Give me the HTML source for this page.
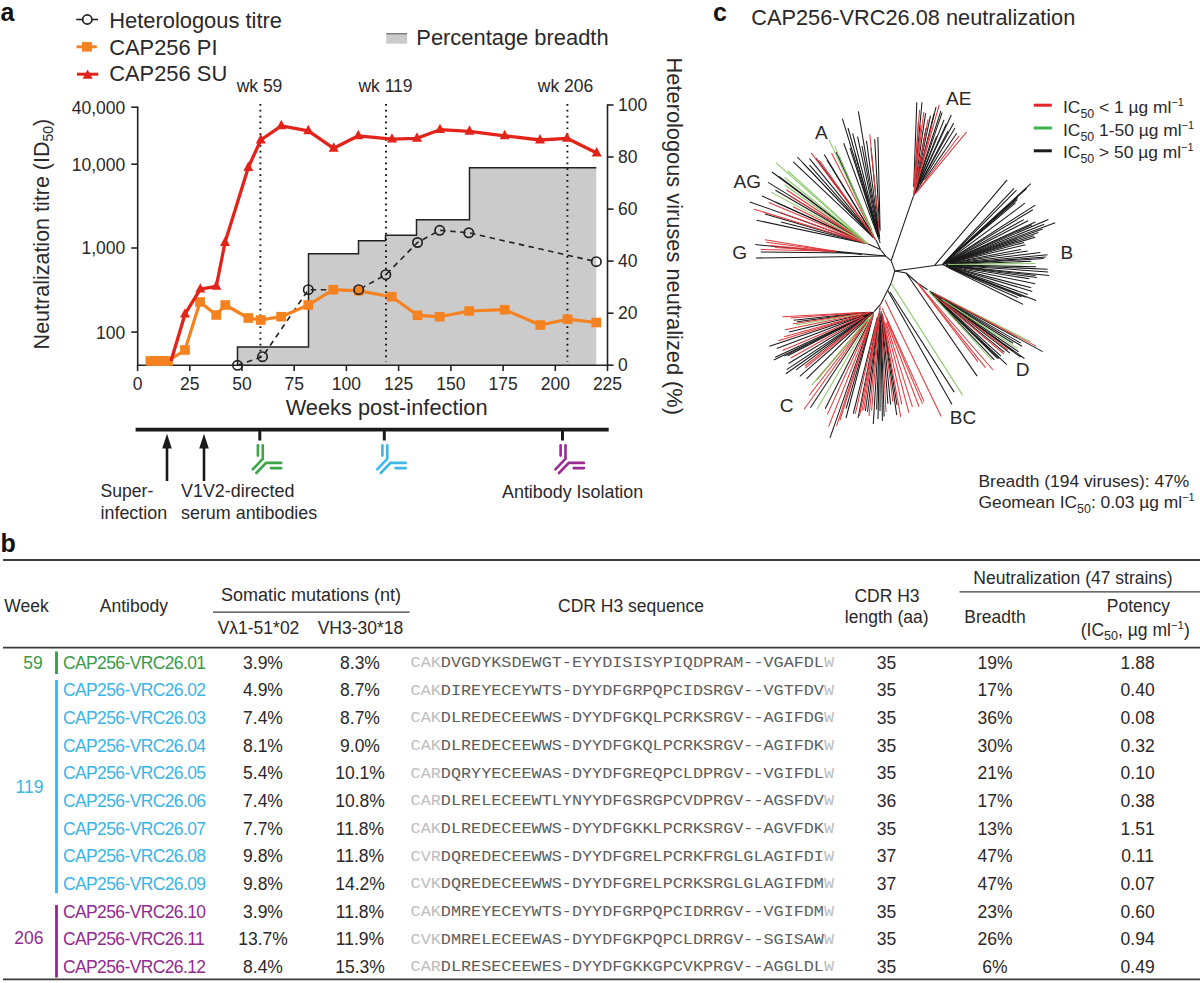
<!DOCTYPE html>
<html><head><meta charset="utf-8"><title>Figure</title>
<style>
html,body{margin:0;padding:0;background:#fff;}
body{width:1200px;height:983px;overflow:hidden;}
svg{display:block;font-family:"Liberation Sans",sans-serif;}
</style></head><body>
<svg width="1200" height="983" viewBox="0 0 1200 983">
<text x="0.5" y="20.9" font-size="25" text-anchor="start" fill="#111" font-weight="bold" >a</text>
<line x1="76.2" y1="19.5" x2="98.0" y2="19.5" stroke="#222" stroke-width="1.6" />
<circle cx="87.3" cy="19.5" r="4.6" fill="#fff" stroke="#222" stroke-width="1.7"/>
<text x="109.2" y="27.8" font-size="21.9" text-anchor="start" fill="#2a2829" font-weight="normal" >Heterologous titre</text>
<line x1="76.6" y1="46.8" x2="96.8" y2="46.8" stroke="#f58220" stroke-width="3" />
<rect x="81.9" y="42" width="10" height="9.6" fill="#f58220"/>
<text x="109.2" y="54.6" font-size="21.9" text-anchor="start" fill="#2a2829" font-weight="normal" >CAP256 PI</text>
<line x1="77.0" y1="74.2" x2="98.3" y2="74.2" stroke="#e2231a" stroke-width="3" />
<path d="M87.6,69.6 L92.6,78.7 L82.6,78.7 Z" fill="#e2231a"/>
<text x="109.2" y="81.4" font-size="21.9" text-anchor="start" fill="#2a2829" font-weight="normal" >CAP256 SU</text>
<rect x="386.3" y="33.3" width="20.8" height="10.4" fill="#cccbcc"/>
<line x1="386.3" y1="33.8" x2="407.1" y2="33.8" stroke="#555" stroke-width="1" />
<text x="416.3" y="45.2" font-size="21.9" text-anchor="start" fill="#2a2829" font-weight="normal" >Percentage breadth</text>
<text x="259.5" y="91.7" font-size="17.5" text-anchor="middle" fill="#2a2829" font-weight="normal" >wk 59</text>
<text x="385.5" y="91.7" font-size="17.5" text-anchor="middle" fill="#2a2829" font-weight="normal" >wk 119</text>
<text x="565.5" y="91.7" font-size="17.5" text-anchor="middle" fill="#2a2829" font-weight="normal" >wk 206</text>
<path d="M237.5,365.3 L237.5,347 L308.5,347 L308.5,253.7 L358.5,253.7 L358.5,240.8 L385.5,240.8 L385.5,235.3 L416.5,235.3 L416.5,219.7 L469.5,219.7 L469.5,167.8 L596.3,167.8 L596.3,365.3 Z" fill="#cccbcc" stroke="none"/>
<path d="M237.5,365.3 L237.5,347 L308.5,347 L308.5,253.7 L358.5,253.7 L358.5,240.8 L385.5,240.8 L385.5,235.3 L416.5,235.3 L416.5,219.7 L469.5,219.7 L469.5,167.8 L596.3,167.8 " fill="none" stroke="#222" stroke-width="1.5"/>
<line x1="260.4" y1="104.0" x2="260.4" y2="362.0" stroke="#111" stroke-width="1.9" stroke-dasharray="1.7 4.15"/>
<line x1="386.0" y1="104.0" x2="386.0" y2="362.0" stroke="#111" stroke-width="1.9" stroke-dasharray="1.7 4.15"/>
<line x1="567.4" y1="104.0" x2="567.4" y2="362.0" stroke="#111" stroke-width="1.9" stroke-dasharray="1.7 4.15"/>
<line x1="137.7" y1="106.5" x2="137.7" y2="366.0" stroke="#222" stroke-width="1.6" />
<line x1="136.9" y1="365.3" x2="608.3" y2="365.3" stroke="#222" stroke-width="1.6" />
<line x1="607.5" y1="104.3" x2="607.5" y2="366.0" stroke="#222" stroke-width="1.6" />
<line x1="131.2" y1="107.2" x2="137.7" y2="107.2" stroke="#222" stroke-width="1.6" />
<text x="125.3" y="113.6" font-size="17.5" text-anchor="end" fill="#2a2829" font-weight="normal" >40,000</text>
<line x1="131.2" y1="164.2" x2="137.7" y2="164.2" stroke="#222" stroke-width="1.6" />
<text x="125.3" y="170.6" font-size="17.5" text-anchor="end" fill="#2a2829" font-weight="normal" >10,000</text>
<line x1="131.2" y1="248.0" x2="137.7" y2="248.0" stroke="#222" stroke-width="1.6" />
<text x="125.3" y="254.4" font-size="17.5" text-anchor="end" fill="#2a2829" font-weight="normal" >1,000</text>
<line x1="131.2" y1="332.1" x2="137.7" y2="332.1" stroke="#222" stroke-width="1.6" />
<text x="125.3" y="338.5" font-size="17.5" text-anchor="end" fill="#2a2829" font-weight="normal" >100</text>
<line x1="137.6" y1="365.3" x2="137.6" y2="371.0" stroke="#222" stroke-width="1.6" />
<text x="137.6" y="389.7" font-size="17.5" text-anchor="middle" fill="#2a2829" font-weight="normal" >0</text>
<line x1="189.8" y1="365.3" x2="189.8" y2="371.0" stroke="#222" stroke-width="1.6" />
<text x="189.8" y="389.7" font-size="17.5" text-anchor="middle" fill="#2a2829" font-weight="normal" >25</text>
<line x1="242.0" y1="365.3" x2="242.0" y2="371.0" stroke="#222" stroke-width="1.6" />
<text x="242.0" y="389.7" font-size="17.5" text-anchor="middle" fill="#2a2829" font-weight="normal" >50</text>
<line x1="294.2" y1="365.3" x2="294.2" y2="371.0" stroke="#222" stroke-width="1.6" />
<text x="294.2" y="389.7" font-size="17.5" text-anchor="middle" fill="#2a2829" font-weight="normal" >75</text>
<line x1="346.4" y1="365.3" x2="346.4" y2="371.0" stroke="#222" stroke-width="1.6" />
<text x="346.4" y="389.7" font-size="17.5" text-anchor="middle" fill="#2a2829" font-weight="normal" >100</text>
<line x1="398.6" y1="365.3" x2="398.6" y2="371.0" stroke="#222" stroke-width="1.6" />
<text x="398.6" y="389.7" font-size="17.5" text-anchor="middle" fill="#2a2829" font-weight="normal" >125</text>
<line x1="450.9" y1="365.3" x2="450.9" y2="371.0" stroke="#222" stroke-width="1.6" />
<text x="450.9" y="389.7" font-size="17.5" text-anchor="middle" fill="#2a2829" font-weight="normal" >150</text>
<line x1="503.1" y1="365.3" x2="503.1" y2="371.0" stroke="#222" stroke-width="1.6" />
<text x="503.1" y="389.7" font-size="17.5" text-anchor="middle" fill="#2a2829" font-weight="normal" >175</text>
<line x1="555.3" y1="365.3" x2="555.3" y2="371.0" stroke="#222" stroke-width="1.6" />
<text x="555.3" y="389.7" font-size="17.5" text-anchor="middle" fill="#2a2829" font-weight="normal" >200</text>
<line x1="607.5" y1="365.3" x2="607.5" y2="371.0" stroke="#222" stroke-width="1.6" />
<text x="607.5" y="389.7" font-size="17.5" text-anchor="middle" fill="#2a2829" font-weight="normal" >225</text>
<line x1="607.5" y1="365.2" x2="613.5" y2="365.2" stroke="#222" stroke-width="1.6" />
<text x="618.0" y="371.4" font-size="17.5" text-anchor="start" fill="#2a2829" font-weight="normal" >0</text>
<line x1="607.5" y1="313.2" x2="613.5" y2="313.2" stroke="#222" stroke-width="1.6" />
<text x="618.0" y="319.4" font-size="17.5" text-anchor="start" fill="#2a2829" font-weight="normal" >20</text>
<line x1="607.5" y1="261.1" x2="613.5" y2="261.1" stroke="#222" stroke-width="1.6" />
<text x="618.0" y="267.3" font-size="17.5" text-anchor="start" fill="#2a2829" font-weight="normal" >40</text>
<line x1="607.5" y1="209.1" x2="613.5" y2="209.1" stroke="#222" stroke-width="1.6" />
<text x="618.0" y="215.3" font-size="17.5" text-anchor="start" fill="#2a2829" font-weight="normal" >60</text>
<line x1="607.5" y1="157.0" x2="613.5" y2="157.0" stroke="#222" stroke-width="1.6" />
<text x="618.0" y="163.2" font-size="17.5" text-anchor="start" fill="#2a2829" font-weight="normal" >80</text>
<line x1="607.5" y1="105.0" x2="613.5" y2="105.0" stroke="#222" stroke-width="1.6" />
<text x="618.0" y="111.2" font-size="17.5" text-anchor="start" fill="#2a2829" font-weight="normal" >100</text>
<text x="386.6" y="415.1" font-size="21.8" text-anchor="middle" fill="#2a2829" font-weight="normal" >Weeks post-infection</text>
<text transform="translate(48.9,349.4) rotate(-90)" font-size="21.5" fill="#2a2829">Neutralization titre (ID<tspan font-size="14" dy="4">50</tspan><tspan dy="-4">)</tspan></text>
<text transform="translate(667.1,57.6) rotate(90)" font-size="21.8" fill="#2a2829">Heterologous viruses neutralized (%)</text>
<polyline points="237.5,365.3 262.5,356.7 308.3,289.7 358.7,289.7 385.8,274.7 417.5,242.5 439.7,230.3 468.8,232.8 596.3,261.7" fill="none" stroke="#222" stroke-width="1.6" stroke-dasharray="5.5 4.5"/>
<polyline points="150.5,361 155,361 159.5,361 164,361 168,361 185,350 200,302 216.3,315 225.3,305 248.3,318 260.8,320 281.2,316.7 308.3,305 333.3,289.7 358.7,290.8 391.7,296.7 417.5,315.3 439.7,316.7 469.2,311 504.7,309.7 540.3,325 567.5,319.2 596.3,322.5" fill="none" stroke="#f58220" stroke-width="3.2" stroke-linejoin="round"/>
<rect x="145.6" y="356.2" width="9.8" height="9.6" fill="#f58220"/>
<rect x="150.1" y="356.2" width="9.8" height="9.6" fill="#f58220"/>
<rect x="154.6" y="356.2" width="9.8" height="9.6" fill="#f58220"/>
<rect x="159.1" y="356.2" width="9.8" height="9.6" fill="#f58220"/>
<rect x="163.1" y="356.2" width="9.8" height="9.6" fill="#f58220"/>
<rect x="180.1" y="345.2" width="9.8" height="9.6" fill="#f58220"/>
<rect x="195.1" y="297.2" width="9.8" height="9.6" fill="#f58220"/>
<rect x="211.4" y="310.2" width="9.8" height="9.6" fill="#f58220"/>
<rect x="220.4" y="300.2" width="9.8" height="9.6" fill="#f58220"/>
<rect x="243.4" y="313.2" width="9.8" height="9.6" fill="#f58220"/>
<rect x="255.9" y="315.2" width="9.8" height="9.6" fill="#f58220"/>
<rect x="276.3" y="311.9" width="9.8" height="9.6" fill="#f58220"/>
<rect x="303.4" y="300.2" width="9.8" height="9.6" fill="#f58220"/>
<rect x="328.4" y="284.9" width="9.8" height="9.6" fill="#f58220"/>
<rect x="353.8" y="286.0" width="9.8" height="9.6" fill="#f58220"/>
<rect x="386.8" y="291.9" width="9.8" height="9.6" fill="#f58220"/>
<rect x="412.6" y="310.5" width="9.8" height="9.6" fill="#f58220"/>
<rect x="434.8" y="311.9" width="9.8" height="9.6" fill="#f58220"/>
<rect x="464.3" y="306.2" width="9.8" height="9.6" fill="#f58220"/>
<rect x="499.8" y="304.9" width="9.8" height="9.6" fill="#f58220"/>
<rect x="535.4" y="320.2" width="9.8" height="9.6" fill="#f58220"/>
<rect x="562.6" y="314.4" width="9.8" height="9.6" fill="#f58220"/>
<rect x="591.4" y="317.7" width="9.8" height="9.6" fill="#f58220"/>
<polyline points="171,361 185,314.2 200.3,289.2 216.3,286.3 225,242.5 248.3,167.5 260.8,140 281.3,125.8 308.3,130.8 333.7,148.3 358.3,135.8 392,139.2 417,138.3 440,129.7 469.5,131.3 504.7,135.8 540,140 567,138.3 596.7,153" fill="none" stroke="#e2231a" stroke-width="3.3" stroke-linejoin="round"/>
<path d="M185.0,308.2 L190.0,317.6 L180.0,317.6 Z" fill="#e2231a"/>
<path d="M200.3,283.2 L205.3,292.6 L195.3,292.6 Z" fill="#e2231a"/>
<path d="M216.3,280.3 L221.3,289.7 L211.3,289.7 Z" fill="#e2231a"/>
<path d="M225.0,236.5 L230.0,245.9 L220.0,245.9 Z" fill="#e2231a"/>
<path d="M248.3,161.5 L253.3,170.9 L243.3,170.9 Z" fill="#e2231a"/>
<path d="M260.8,134.0 L265.8,143.4 L255.8,143.4 Z" fill="#e2231a"/>
<path d="M281.3,119.8 L286.3,129.2 L276.3,129.2 Z" fill="#e2231a"/>
<path d="M308.3,124.8 L313.3,134.2 L303.3,134.2 Z" fill="#e2231a"/>
<path d="M333.7,142.3 L338.7,151.7 L328.7,151.7 Z" fill="#e2231a"/>
<path d="M358.3,129.8 L363.3,139.2 L353.3,139.2 Z" fill="#e2231a"/>
<path d="M392.0,133.2 L397.0,142.6 L387.0,142.6 Z" fill="#e2231a"/>
<path d="M417.0,132.3 L422.0,141.7 L412.0,141.7 Z" fill="#e2231a"/>
<path d="M440.0,123.7 L445.0,133.1 L435.0,133.1 Z" fill="#e2231a"/>
<path d="M469.5,125.3 L474.5,134.7 L464.5,134.7 Z" fill="#e2231a"/>
<path d="M504.7,129.8 L509.7,139.2 L499.7,139.2 Z" fill="#e2231a"/>
<path d="M540.0,134.0 L545.0,143.4 L535.0,143.4 Z" fill="#e2231a"/>
<path d="M567.0,132.3 L572.0,141.7 L562.0,141.7 Z" fill="#e2231a"/>
<path d="M596.7,147.0 L601.7,156.4 L591.7,156.4 Z" fill="#e2231a"/>
<circle cx="237.5" cy="365.3" r="4.7" fill="none" stroke="#222" stroke-width="1.7"/>
<circle cx="262.5" cy="356.7" r="4.7" fill="none" stroke="#222" stroke-width="1.7"/>
<circle cx="308.3" cy="289.7" r="4.7" fill="none" stroke="#222" stroke-width="1.7"/>
<circle cx="358.7" cy="289.7" r="4.7" fill="none" stroke="#222" stroke-width="1.7"/>
<circle cx="385.8" cy="274.7" r="4.7" fill="none" stroke="#222" stroke-width="1.7"/>
<circle cx="417.5" cy="242.5" r="4.7" fill="none" stroke="#222" stroke-width="1.7"/>
<circle cx="439.7" cy="230.3" r="4.7" fill="none" stroke="#222" stroke-width="1.7"/>
<circle cx="468.8" cy="232.8" r="4.7" fill="none" stroke="#222" stroke-width="1.7"/>
<circle cx="596.3" cy="261.7" r="4.7" fill="none" stroke="#222" stroke-width="1.7"/>
<line x1="135.6" y1="429.6" x2="608.7" y2="429.6" stroke="#1a1a1a" stroke-width="3.6" />
<line x1="259.8" y1="429.6" x2="259.8" y2="440.5" stroke="#1a1a1a" stroke-width="3" />
<path d="M257.90000000000003,445.2 L257.90000000000003,455.6" stroke="#3aa647" stroke-width="2.6" stroke-linecap="round" fill="none"/>
<path d="M262.8,445.2 L262.8,458.8 L252.70000000000002,469.4" stroke="#3aa647" stroke-width="2.6" stroke-linecap="round" fill="none"/>
<path d="M281.2,462.9 L266.1,462.9 L256.3,473.0" stroke="#3aa647" stroke-width="2.6" stroke-linecap="round" fill="none"/>
<path d="M281.2,468.1 L271.0,468.1" stroke="#3aa647" stroke-width="2.6" stroke-linecap="round" fill="none"/>
<line x1="384.3" y1="429.6" x2="384.3" y2="440.5" stroke="#1a1a1a" stroke-width="3" />
<path d="M382.40000000000003,445.2 L382.40000000000003,455.6" stroke="#3db7e6" stroke-width="2.6" stroke-linecap="round" fill="none"/>
<path d="M387.3,445.2 L387.3,458.8 L377.2,469.4" stroke="#3db7e6" stroke-width="2.6" stroke-linecap="round" fill="none"/>
<path d="M405.7,462.9 L390.6,462.9 L380.8,473.0" stroke="#3db7e6" stroke-width="2.6" stroke-linecap="round" fill="none"/>
<path d="M405.7,468.1 L395.5,468.1" stroke="#3db7e6" stroke-width="2.6" stroke-linecap="round" fill="none"/>
<line x1="562.5" y1="429.6" x2="562.5" y2="440.5" stroke="#1a1a1a" stroke-width="3" />
<path d="M560.6,445.2 L560.6,455.6" stroke="#972b93" stroke-width="2.6" stroke-linecap="round" fill="none"/>
<path d="M565.5,445.2 L565.5,458.8 L555.4,469.4" stroke="#972b93" stroke-width="2.6" stroke-linecap="round" fill="none"/>
<path d="M583.9,462.9 L568.8,462.9 L559.0,473.0" stroke="#972b93" stroke-width="2.6" stroke-linecap="round" fill="none"/>
<path d="M583.9,468.1 L573.7,468.1" stroke="#972b93" stroke-width="2.6" stroke-linecap="round" fill="none"/>
<line x1="167.0" y1="446.0" x2="167.0" y2="481.0" stroke="#1a1a1a" stroke-width="2.6" />
<path d="M167,433.8 L171.8,448.5 L162.2,448.5 Z" fill="#1a1a1a"/>
<line x1="204.0" y1="446.0" x2="204.0" y2="481.0" stroke="#1a1a1a" stroke-width="2.6" />
<path d="M204,433.8 L208.8,448.5 L199.2,448.5 Z" fill="#1a1a1a"/>
<text x="100.5" y="497.4" font-size="17.6" text-anchor="start" fill="#2a2829" font-weight="normal" >Super-</text>
<text x="100.5" y="518.6" font-size="17.9" text-anchor="start" fill="#2a2829" font-weight="normal" >infection</text>
<text x="181.0" y="497.4" font-size="17.9" text-anchor="start" fill="#2a2829" font-weight="normal" >V1V2-directed</text>
<text x="181.0" y="518.6" font-size="17.9" text-anchor="start" fill="#2a2829" font-weight="normal" >serum antibodies</text>
<text x="502.0" y="497.6" font-size="17.9" text-anchor="start" fill="#2a2829" font-weight="normal" >Antibody Isolation</text>
<text x="713.0" y="20.8" font-size="25" text-anchor="start" fill="#111" font-weight="bold" >c</text>
<text x="751.3" y="25.0" font-size="21.75" text-anchor="start" fill="#2a2829" font-weight="normal" >CAP256-VRC26.08 neutralization</text>
<line x1="1033.8" y1="105.2" x2="1051.8" y2="105.2" stroke="#e2262b" stroke-width="3" />
<text x="1063" y="112.7" font-size="17.4" fill="#2a2829">IC<tspan font-size="12.4" dy="5">50</tspan><tspan dy="-5"> &lt; 1 µg ml</tspan><tspan font-size="11" dy="-7">−1</tspan></text>
<line x1="1033.8" y1="128.0" x2="1051.8" y2="128.0" stroke="#3bb34a" stroke-width="3" />
<text x="1063" y="135.5" font-size="17.4" fill="#2a2829">IC<tspan font-size="12.4" dy="5">50</tspan><tspan dy="-5"> 1-50 µg ml</tspan><tspan font-size="11" dy="-7">−1</tspan></text>
<line x1="1033.8" y1="150.8" x2="1051.8" y2="150.8" stroke="#1a1a1a" stroke-width="3" />
<text x="1063" y="158.3" font-size="17.4" fill="#2a2829">IC<tspan font-size="12.4" dy="5">50</tspan><tspan dy="-5"> &gt; 50 µg ml</tspan><tspan font-size="11" dy="-7">−1</tspan></text>
<text x="978.5" y="487.2" font-size="17.4" fill="#2a2829">Breadth (194 viruses): 47%</text>
<text x="978.5" y="507.5" font-size="17.4" fill="#2a2829">Geomean IC<tspan font-size="12.4" dy="5">50</tspan><tspan dy="-5">: 0.03 µg ml</tspan><tspan font-size="11" dy="-7">−1</tspan></text>
<line x1="894.8" y1="270.9" x2="891.2" y2="260.7" stroke="#1a1a1a" stroke-width="1.05"/>
<line x1="891.2" y1="260.7" x2="913.4" y2="196.2" stroke="#1a1a1a" stroke-width="1.05"/>
<line x1="891.2" y1="260.7" x2="885.6" y2="256.1" stroke="#1a1a1a" stroke-width="1.05"/>
<line x1="885.6" y1="256.1" x2="880.5" y2="249.5" stroke="#1a1a1a" stroke-width="1.05"/>
<line x1="894.8" y1="270.9" x2="934.6" y2="265.4" stroke="#1a1a1a" stroke-width="1.05"/>
<line x1="934.6" y1="265.4" x2="942.2" y2="264.7" stroke="#1a1a1a" stroke-width="1.05"/>
<line x1="934.6" y1="265.4" x2="1007.1" y2="179.9" stroke="#1a1a1a" stroke-width="1.05"/>
<line x1="894.8" y1="270.9" x2="891.2" y2="283.1" stroke="#1a1a1a" stroke-width="1.05"/>
<line x1="891.2" y1="283.1" x2="887.6" y2="290.2" stroke="#1a1a1a" stroke-width="1.05"/>
<line x1="887.6" y1="290.2" x2="880.5" y2="304.4" stroke="#1a1a1a" stroke-width="1.05"/>
<line x1="880.5" y1="304.4" x2="874.1" y2="311.6" stroke="#1a1a1a" stroke-width="1.05"/>
<line x1="894.8" y1="270.9" x2="906.1" y2="273.0" stroke="#1a1a1a" stroke-width="1.05"/>
<line x1="906.1" y1="273.0" x2="917.5" y2="283.0" stroke="#1a1a1a" stroke-width="1.05"/>
<line x1="917.5" y1="283.0" x2="927.5" y2="289.8" stroke="#1a1a1a" stroke-width="1.05"/>
<line x1="906.1" y1="273.0" x2="977.1" y2="376.1" stroke="#1a1a1a" stroke-width="1.05"/>
<line x1="891.2" y1="283.1" x2="962.6" y2="395.1" stroke="#8dc96a" stroke-width="1.05"/>
<line x1="890.0" y1="292.0" x2="954.2" y2="392.1" stroke="#1a1a1a" stroke-width="1.05"/>
<line x1="887.6" y1="290.2" x2="951.9" y2="404.3" stroke="#1a1a1a" stroke-width="1.05"/>
<line x1="885.0" y1="300.0" x2="941.2" y2="416.5" stroke="#e0393e" stroke-width="1.05"/>
<line x1="868.2" y1="244.0" x2="880.5" y2="249.5" stroke="#1a1a1a" stroke-width="1.05"/>
<line x1="876.0" y1="240.0" x2="880.5" y2="249.5" stroke="#1a1a1a" stroke-width="1.05"/>
<line x1="913.7" y1="187.2" x2="916.8" y2="102.2" stroke="#1a1a1a" stroke-width="1.05"/>
<line x1="914.4" y1="185.1" x2="922.0" y2="102.2" stroke="#1a1a1a" stroke-width="1.05"/>
<line x1="916.1" y1="177.9" x2="925.6" y2="113.2" stroke="#1a1a1a" stroke-width="1.05"/>
<line x1="915.1" y1="187.0" x2="926.0" y2="128.0" stroke="#1a1a1a" stroke-width="1.05"/>
<line x1="915.5" y1="186.3" x2="930.5" y2="115.6" stroke="#1a1a1a" stroke-width="1.05"/>
<line x1="916.3" y1="184.8" x2="934.0" y2="114.0" stroke="#1a1a1a" stroke-width="1.05"/>
<line x1="914.3" y1="192.6" x2="936.0" y2="107.1" stroke="#1a1a1a" stroke-width="1.05"/>
<line x1="916.5" y1="186.5" x2="940.9" y2="110.8" stroke="#1a1a1a" stroke-width="1.05"/>
<line x1="917.5" y1="184.3" x2="942.1" y2="112.6" stroke="#1a1a1a" stroke-width="1.05"/>
<line x1="919.1" y1="181.4" x2="936.6" y2="136.4" stroke="#1a1a1a" stroke-width="1.05"/>
<line x1="914.1" y1="194.5" x2="944.0" y2="119.9" stroke="#1a1a1a" stroke-width="1.05"/>
<line x1="915.9" y1="190.7" x2="946.4" y2="123.6" stroke="#1a1a1a" stroke-width="1.05"/>
<line x1="914.2" y1="194.6" x2="951.3" y2="115.0" stroke="#1a1a1a" stroke-width="1.05"/>
<line x1="921.0" y1="181.9" x2="948.0" y2="131.0" stroke="#1a1a1a" stroke-width="1.05"/>
<line x1="920.1" y1="184.1" x2="953.7" y2="123.0" stroke="#1a1a1a" stroke-width="1.05"/>
<line x1="913.8" y1="195.5" x2="955.0" y2="128.0" stroke="#1a1a1a" stroke-width="1.05"/>
<line x1="924.6" y1="180.0" x2="956.8" y2="133.3" stroke="#1a1a1a" stroke-width="1.05"/>
<line x1="914.7" y1="176.9" x2="918.3" y2="121.7" stroke="#e0393e" stroke-width="1.05"/>
<line x1="914.3" y1="183.2" x2="919.5" y2="110.0" stroke="#e0393e" stroke-width="1.05"/>
<line x1="914.7" y1="184.0" x2="921.0" y2="125.0" stroke="#e0393e" stroke-width="1.05"/>
<line x1="913.8" y1="193.1" x2="923.8" y2="112.0" stroke="#e0393e" stroke-width="1.05"/>
<line x1="913.5" y1="195.9" x2="928.1" y2="119.3" stroke="#e0393e" stroke-width="1.05"/>
<line x1="916.1" y1="186.0" x2="932.0" y2="125.0" stroke="#e0393e" stroke-width="1.05"/>
<line x1="913.7" y1="195.1" x2="939.3" y2="104.7" stroke="#e0393e" stroke-width="1.05"/>
<line x1="915.7" y1="193.2" x2="959.2" y2="135.8" stroke="#e0393e" stroke-width="1.05"/>
<line x1="916.5" y1="192.5" x2="966.5" y2="132.1" stroke="#e0393e" stroke-width="1.05"/>
<line x1="880.2" y1="242.9" x2="843.7" y2="143.2" stroke="#1a1a1a" stroke-width="1.05"/>
<line x1="878.3" y1="236.7" x2="850.0" y2="148.0" stroke="#1a1a1a" stroke-width="1.05"/>
<line x1="878.5" y1="237.0" x2="842.4" y2="118.7" stroke="#1a1a1a" stroke-width="1.05"/>
<line x1="877.0" y1="231.1" x2="855.0" y2="153.7" stroke="#1a1a1a" stroke-width="1.05"/>
<line x1="878.3" y1="235.8" x2="848.0" y2="128.0" stroke="#1a1a1a" stroke-width="1.05"/>
<line x1="878.1" y1="234.0" x2="852.7" y2="133.4" stroke="#1a1a1a" stroke-width="1.05"/>
<line x1="878.8" y1="236.0" x2="857.6" y2="136.6" stroke="#1a1a1a" stroke-width="1.05"/>
<line x1="878.6" y1="233.5" x2="862.0" y2="146.0" stroke="#1a1a1a" stroke-width="1.05"/>
<line x1="879.3" y1="236.5" x2="858.4" y2="111.4" stroke="#1a1a1a" stroke-width="1.05"/>
<line x1="879.8" y1="239.2" x2="866.5" y2="140.7" stroke="#1a1a1a" stroke-width="1.05"/>
<line x1="878.9" y1="228.4" x2="871.0" y2="148.0" stroke="#1a1a1a" stroke-width="1.05"/>
<line x1="879.6" y1="228.4" x2="874.7" y2="139.1" stroke="#1a1a1a" stroke-width="1.05"/>
<line x1="880.1" y1="230.7" x2="877.9" y2="137.1" stroke="#1a1a1a" stroke-width="1.05"/>
<line x1="879.4" y1="232.7" x2="869.8" y2="134.2" stroke="#e0393e" stroke-width="1.05"/>
<line x1="873.2" y1="237.4" x2="793.3" y2="161.9" stroke="#1a1a1a" stroke-width="1.05"/>
<line x1="874.1" y1="238.0" x2="797.3" y2="157.0" stroke="#1a1a1a" stroke-width="1.05"/>
<line x1="873.6" y1="237.5" x2="803.0" y2="163.0" stroke="#1a1a1a" stroke-width="1.05"/>
<line x1="875.4" y1="239.4" x2="809.5" y2="165.1" stroke="#1a1a1a" stroke-width="1.05"/>
<line x1="870.2" y1="232.9" x2="809.5" y2="158.6" stroke="#1a1a1a" stroke-width="1.05"/>
<line x1="873.2" y1="236.1" x2="816.0" y2="158.0" stroke="#1a1a1a" stroke-width="1.05"/>
<line x1="870.7" y1="231.3" x2="827.0" y2="160.0" stroke="#1a1a1a" stroke-width="1.05"/>
<line x1="873.6" y1="236.0" x2="824.2" y2="154.6" stroke="#1a1a1a" stroke-width="1.05"/>
<line x1="871.2" y1="229.5" x2="836.0" y2="152.0" stroke="#1a1a1a" stroke-width="1.05"/>
<line x1="871.9" y1="230.7" x2="838.9" y2="156.2" stroke="#1a1a1a" stroke-width="1.05"/>
<line x1="876.0" y1="240.0" x2="811.2" y2="152.9" stroke="#e0393e" stroke-width="1.05"/>
<line x1="874.5" y1="237.9" x2="819.3" y2="160.3" stroke="#e0393e" stroke-width="1.05"/>
<line x1="871.0" y1="230.3" x2="831.5" y2="152.9" stroke="#e0393e" stroke-width="1.05"/>
<line x1="873.6" y1="234.9" x2="829.1" y2="139.9" stroke="#8dc96a" stroke-width="1.05"/>
<line x1="871.3" y1="229.2" x2="834.8" y2="146.4" stroke="#8dc96a" stroke-width="1.05"/>
<line x1="864.3" y1="243.2" x2="756.5" y2="220.2" stroke="#1a1a1a" stroke-width="1.05"/>
<line x1="867.5" y1="243.8" x2="780.9" y2="222.0" stroke="#1a1a1a" stroke-width="1.05"/>
<line x1="862.2" y1="242.2" x2="765.0" y2="214.0" stroke="#1a1a1a" stroke-width="1.05"/>
<line x1="860.9" y1="241.4" x2="749.8" y2="201.9" stroke="#1a1a1a" stroke-width="1.05"/>
<line x1="865.7" y1="242.9" x2="762.0" y2="196.0" stroke="#1a1a1a" stroke-width="1.05"/>
<line x1="867.4" y1="243.6" x2="775.4" y2="201.9" stroke="#1a1a1a" stroke-width="1.05"/>
<line x1="865.3" y1="242.3" x2="775.4" y2="190.3" stroke="#1a1a1a" stroke-width="1.05"/>
<line x1="860.0" y1="238.9" x2="768.1" y2="182.4" stroke="#1a1a1a" stroke-width="1.05"/>
<line x1="862.1" y1="239.5" x2="772.0" y2="172.0" stroke="#1a1a1a" stroke-width="1.05"/>
<line x1="867.3" y1="243.3" x2="779.0" y2="176.3" stroke="#1a1a1a" stroke-width="1.05"/>
<line x1="865.8" y1="243.3" x2="754.0" y2="209.2" stroke="#e0393e" stroke-width="1.05"/>
<line x1="867.2" y1="243.7" x2="779.0" y2="212.0" stroke="#e0393e" stroke-width="1.05"/>
<line x1="867.6" y1="243.8" x2="768.7" y2="202.5" stroke="#e0393e" stroke-width="1.05"/>
<line x1="861.1" y1="240.5" x2="793.1" y2="206.8" stroke="#e0393e" stroke-width="1.05"/>
<line x1="866.6" y1="243.2" x2="771.1" y2="192.1" stroke="#8dc96a" stroke-width="1.05"/>
<line x1="863.4" y1="241.1" x2="790.0" y2="196.0" stroke="#e0393e" stroke-width="1.05"/>
<line x1="864.5" y1="241.5" x2="786.4" y2="189.7" stroke="#e0393e" stroke-width="1.05"/>
<line x1="866.6" y1="242.9" x2="784.6" y2="184.8" stroke="#8dc96a" stroke-width="1.05"/>
<line x1="862.5" y1="239.4" x2="784.6" y2="177.5" stroke="#8dc96a" stroke-width="1.05"/>
<line x1="867.2" y1="243.1" x2="776.0" y2="162.8" stroke="#8dc96a" stroke-width="1.05"/>
<line x1="863.4" y1="239.7" x2="788.0" y2="171.0" stroke="#8dc96a" stroke-width="1.05"/>
<line x1="885.6" y1="256.1" x2="755.9" y2="258.0" stroke="#1a1a1a" stroke-width="1.05"/>
<line x1="885.6" y1="256.1" x2="835.2" y2="251.3" stroke="#1a1a1a" stroke-width="1.05"/>
<line x1="862.0" y1="254.5" x2="755.3" y2="244.6" stroke="#1a1a1a" stroke-width="1.05"/>
<line x1="850.0" y1="253.0" x2="760.8" y2="252.0" stroke="#1a1a1a" stroke-width="1.05"/>
<line x1="835.2" y1="251.3" x2="765.0" y2="239.7" stroke="#e0393e" stroke-width="1.05"/>
<line x1="835.2" y1="251.3" x2="766.3" y2="242.2" stroke="#e0393e" stroke-width="1.05"/>
<line x1="835.2" y1="251.3" x2="760.8" y2="249.5" stroke="#e0393e" stroke-width="1.05"/>
<line x1="835.2" y1="251.3" x2="770.0" y2="245.5" stroke="#e0393e" stroke-width="1.05"/>
<line x1="835.2" y1="251.3" x2="775.0" y2="247.5" stroke="#e0393e" stroke-width="1.05"/>
<line x1="943.1" y1="263.7" x2="1014.0" y2="188.3" stroke="#1a1a1a" stroke-width="1.05"/>
<line x1="944.8" y1="262.1" x2="1016.5" y2="190.2" stroke="#1a1a1a" stroke-width="1.05"/>
<line x1="948.8" y1="258.7" x2="1030.8" y2="183.7" stroke="#1a1a1a" stroke-width="1.05"/>
<line x1="949.5" y1="258.1" x2="1026.6" y2="188.5" stroke="#1a1a1a" stroke-width="1.05"/>
<line x1="947.1" y1="260.3" x2="1017.8" y2="197.5" stroke="#1a1a1a" stroke-width="1.05"/>
<line x1="947.4" y1="260.2" x2="1017.3" y2="199.5" stroke="#1a1a1a" stroke-width="1.05"/>
<line x1="946.7" y1="260.9" x2="1015.5" y2="202.8" stroke="#1a1a1a" stroke-width="1.05"/>
<line x1="943.3" y1="263.9" x2="1024.9" y2="203.2" stroke="#1a1a1a" stroke-width="1.05"/>
<line x1="942.5" y1="264.5" x2="1035.3" y2="205.1" stroke="#1a1a1a" stroke-width="1.05"/>
<line x1="942.4" y1="264.6" x2="1032.8" y2="209.8" stroke="#1a1a1a" stroke-width="1.05"/>
<line x1="950.2" y1="260.3" x2="1023.9" y2="219.6" stroke="#1a1a1a" stroke-width="1.05"/>
<line x1="948.4" y1="261.5" x2="1028.1" y2="220.7" stroke="#1a1a1a" stroke-width="1.05"/>
<line x1="950.9" y1="260.7" x2="1035.3" y2="221.9" stroke="#1a1a1a" stroke-width="1.05"/>
<line x1="942.4" y1="264.6" x2="1032.0" y2="224.8" stroke="#1a1a1a" stroke-width="1.05"/>
<line x1="948.1" y1="262.2" x2="1048.3" y2="219.6" stroke="#1a1a1a" stroke-width="1.05"/>
<line x1="946.7" y1="262.9" x2="1044.2" y2="224.2" stroke="#1a1a1a" stroke-width="1.05"/>
<line x1="949.0" y1="262.2" x2="1055.2" y2="222.7" stroke="#1a1a1a" stroke-width="1.05"/>
<line x1="945.2" y1="263.6" x2="1042.7" y2="229.1" stroke="#1a1a1a" stroke-width="1.05"/>
<line x1="951.7" y1="261.5" x2="1038.4" y2="232.6" stroke="#1a1a1a" stroke-width="1.05"/>
<line x1="942.9" y1="264.5" x2="1034.0" y2="235.8" stroke="#1a1a1a" stroke-width="1.05"/>
<line x1="947.4" y1="263.2" x2="1035.3" y2="237.2" stroke="#1a1a1a" stroke-width="1.05"/>
<line x1="949.3" y1="262.8" x2="1024.1" y2="242.4" stroke="#1a1a1a" stroke-width="1.05"/>
<line x1="951.0" y1="262.6" x2="1025.4" y2="244.8" stroke="#1a1a1a" stroke-width="1.05"/>
<line x1="949.4" y1="263.3" x2="1020.9" y2="249.5" stroke="#1a1a1a" stroke-width="1.05"/>
<line x1="949.1" y1="263.6" x2="1027.7" y2="250.9" stroke="#1a1a1a" stroke-width="1.05"/>
<line x1="950.1" y1="263.7" x2="1040.3" y2="252.6" stroke="#1a1a1a" stroke-width="1.05"/>
<line x1="951.3" y1="263.8" x2="1047.6" y2="254.7" stroke="#1a1a1a" stroke-width="1.05"/>
<line x1="945.7" y1="264.4" x2="1045.7" y2="257.1" stroke="#1a1a1a" stroke-width="1.05"/>
<line x1="949.0" y1="264.3" x2="1043.7" y2="258.5" stroke="#1a1a1a" stroke-width="1.05"/>
<line x1="951.2" y1="264.4" x2="1031.2" y2="261.3" stroke="#1a1a1a" stroke-width="1.05"/>
<line x1="950.9" y1="264.9" x2="1036.0" y2="266.8" stroke="#1a1a1a" stroke-width="1.05"/>
<line x1="946.4" y1="264.9" x2="1047.6" y2="269.2" stroke="#1a1a1a" stroke-width="1.05"/>
<line x1="950.1" y1="265.2" x2="1048.2" y2="271.9" stroke="#1a1a1a" stroke-width="1.05"/>
<line x1="950.8" y1="265.6" x2="1049.1" y2="275.6" stroke="#1a1a1a" stroke-width="1.05"/>
<line x1="947.9" y1="265.4" x2="1035.7" y2="275.6" stroke="#1a1a1a" stroke-width="1.05"/>
<line x1="948.4" y1="265.5" x2="1036.9" y2="277.6" stroke="#1a1a1a" stroke-width="1.05"/>
<line x1="946.0" y1="265.3" x2="1029.5" y2="278.8" stroke="#1a1a1a" stroke-width="1.05"/>
<line x1="947.9" y1="265.9" x2="1035.3" y2="283.7" stroke="#1a1a1a" stroke-width="1.05"/>
<line x1="948.1" y1="266.2" x2="1031.2" y2="287.8" stroke="#1a1a1a" stroke-width="1.05"/>
<line x1="943.0" y1="264.9" x2="1032.3" y2="291.4" stroke="#1a1a1a" stroke-width="1.05"/>
<line x1="948.2" y1="266.8" x2="1027.8" y2="294.6" stroke="#1a1a1a" stroke-width="1.05"/>
<line x1="951.5" y1="268.2" x2="1036.1" y2="300.5" stroke="#1a1a1a" stroke-width="1.05"/>
<line x1="950.4" y1="267.9" x2="1025.8" y2="297.3" stroke="#1a1a1a" stroke-width="1.05"/>
<line x1="949.0" y1="267.4" x2="1021.6" y2="296.7" stroke="#1a1a1a" stroke-width="1.05"/>
<line x1="945.8" y1="266.3" x2="1017.8" y2="297.8" stroke="#1a1a1a" stroke-width="1.05"/>
<line x1="948.8" y1="267.9" x2="1023.1" y2="304.4" stroke="#1a1a1a" stroke-width="1.05"/>
<line x1="948.0" y1="264.6" x2="1035.3" y2="263.4" stroke="#8dc96a" stroke-width="1.05"/>
<line x1="917.5" y1="283.0" x2="977.8" y2="361.6" stroke="#e0393e" stroke-width="1.05"/>
<line x1="917.5" y1="283.0" x2="985.5" y2="367.7" stroke="#e0393e" stroke-width="1.05"/>
<line x1="917.5" y1="283.0" x2="993.1" y2="370.0" stroke="#e0393e" stroke-width="1.05"/>
<line x1="937.8" y1="295.3" x2="1042.7" y2="351.6" stroke="#1a1a1a" stroke-width="1.05"/>
<line x1="933.0" y1="292.9" x2="1020.8" y2="343.1" stroke="#1a1a1a" stroke-width="1.05"/>
<line x1="929.8" y1="291.2" x2="1022.1" y2="346.3" stroke="#1a1a1a" stroke-width="1.05"/>
<line x1="935.9" y1="295.1" x2="1013.1" y2="343.3" stroke="#1a1a1a" stroke-width="1.05"/>
<line x1="941.3" y1="299.2" x2="1018.6" y2="351.8" stroke="#1a1a1a" stroke-width="1.05"/>
<line x1="941.3" y1="299.6" x2="1024.4" y2="358.5" stroke="#1a1a1a" stroke-width="1.05"/>
<line x1="939.1" y1="298.1" x2="1013.4" y2="351.2" stroke="#1a1a1a" stroke-width="1.05"/>
<line x1="942.9" y1="300.9" x2="1020.6" y2="357.0" stroke="#1a1a1a" stroke-width="1.05"/>
<line x1="931.9" y1="293.2" x2="1009.9" y2="353.2" stroke="#1a1a1a" stroke-width="1.05"/>
<line x1="930.1" y1="291.9" x2="1004.5" y2="352.4" stroke="#1a1a1a" stroke-width="1.05"/>
<line x1="934.2" y1="295.8" x2="1001.0" y2="356.1" stroke="#1a1a1a" stroke-width="1.05"/>
<line x1="931.5" y1="293.6" x2="1006.8" y2="364.6" stroke="#1a1a1a" stroke-width="1.05"/>
<line x1="930.6" y1="292.8" x2="999.4" y2="358.6" stroke="#1a1a1a" stroke-width="1.05"/>
<line x1="933.4" y1="295.6" x2="997.7" y2="358.5" stroke="#1a1a1a" stroke-width="1.05"/>
<line x1="936.1" y1="298.9" x2="994.3" y2="359.9" stroke="#1a1a1a" stroke-width="1.05"/>
<line x1="936.3" y1="294.2" x2="1030.5" y2="341.7" stroke="#8dc96a" stroke-width="1.05"/>
<line x1="933.1" y1="292.7" x2="1036.5" y2="346.4" stroke="#e0393e" stroke-width="1.05"/>
<line x1="941.5" y1="299.0" x2="1017.5" y2="348.6" stroke="#8dc96a" stroke-width="1.05"/>
<line x1="943.2" y1="301.6" x2="1008.0" y2="350.0" stroke="#e0393e" stroke-width="1.05"/>
<line x1="934.4" y1="295.6" x2="1003.8" y2="353.9" stroke="#e0393e" stroke-width="1.05"/>
<line x1="928.5" y1="290.9" x2="991.6" y2="360.0" stroke="#8dc96a" stroke-width="1.05"/>
<line x1="882.0" y1="313.4" x2="897.0" y2="405.0" stroke="#1a1a1a" stroke-width="1.05"/>
<line x1="882.3" y1="316.8" x2="896.7" y2="414.8" stroke="#1a1a1a" stroke-width="1.05"/>
<line x1="882.3" y1="322.5" x2="890.6" y2="404.6" stroke="#1a1a1a" stroke-width="1.05"/>
<line x1="881.1" y1="311.9" x2="887.9" y2="403.8" stroke="#1a1a1a" stroke-width="1.05"/>
<line x1="880.9" y1="315.8" x2="884.1" y2="416.5" stroke="#1a1a1a" stroke-width="1.05"/>
<line x1="880.8" y1="322.0" x2="882.4" y2="420.9" stroke="#1a1a1a" stroke-width="1.05"/>
<line x1="880.4" y1="320.3" x2="880.0" y2="411.1" stroke="#1a1a1a" stroke-width="1.05"/>
<line x1="880.1" y1="323.3" x2="878.0" y2="419.0" stroke="#1a1a1a" stroke-width="1.05"/>
<line x1="880.2" y1="313.7" x2="876.6" y2="409.5" stroke="#1a1a1a" stroke-width="1.05"/>
<line x1="879.7" y1="317.4" x2="873.3" y2="424.0" stroke="#1a1a1a" stroke-width="1.05"/>
<line x1="880.0" y1="308.5" x2="867.5" y2="412.0" stroke="#1a1a1a" stroke-width="1.05"/>
<line x1="878.5" y1="318.7" x2="865.4" y2="411.0" stroke="#1a1a1a" stroke-width="1.05"/>
<line x1="877.3" y1="320.5" x2="858.0" y2="418.0" stroke="#1a1a1a" stroke-width="1.05"/>
<line x1="877.4" y1="316.9" x2="853.3" y2="413.6" stroke="#1a1a1a" stroke-width="1.05"/>
<line x1="886.4" y1="317.5" x2="924.1" y2="401.6" stroke="#e0393e" stroke-width="1.05"/>
<line x1="882.2" y1="308.3" x2="922.5" y2="403.9" stroke="#e0393e" stroke-width="1.05"/>
<line x1="886.8" y1="321.2" x2="919.0" y2="406.7" stroke="#e0393e" stroke-width="1.05"/>
<line x1="886.3" y1="323.1" x2="912.4" y2="406.9" stroke="#e0393e" stroke-width="1.05"/>
<line x1="885.5" y1="323.3" x2="908.9" y2="412.8" stroke="#e0393e" stroke-width="1.05"/>
<line x1="882.7" y1="314.9" x2="901.8" y2="404.4" stroke="#e0393e" stroke-width="1.05"/>
<line x1="883.3" y1="320.0" x2="900.7" y2="416.8" stroke="#e0393e" stroke-width="1.05"/>
<line x1="881.3" y1="310.8" x2="892.9" y2="401.7" stroke="#e0393e" stroke-width="1.05"/>
<line x1="881.4" y1="322.6" x2="886.0" y2="412.0" stroke="#e0393e" stroke-width="1.05"/>
<line x1="879.1" y1="321.5" x2="871.6" y2="410.5" stroke="#e0393e" stroke-width="1.05"/>
<line x1="879.8" y1="311.3" x2="869.0" y2="416.0" stroke="#e0393e" stroke-width="1.05"/>
<line x1="880.2" y1="306.0" x2="863.7" y2="410.0" stroke="#e0393e" stroke-width="1.05"/>
<line x1="879.0" y1="313.1" x2="862.0" y2="411.0" stroke="#e0393e" stroke-width="1.05"/>
<line x1="878.5" y1="315.2" x2="859.5" y2="416.1" stroke="#e0393e" stroke-width="1.05"/>
<line x1="877.1" y1="319.4" x2="855.3" y2="413.8" stroke="#e0393e" stroke-width="1.05"/>
<line x1="873.4" y1="314.4" x2="846.0" y2="418.0" stroke="#1a1a1a" stroke-width="1.05"/>
<line x1="871.5" y1="320.5" x2="846.1" y2="408.7" stroke="#1a1a1a" stroke-width="1.05"/>
<line x1="869.5" y1="324.7" x2="830.0" y2="437.8" stroke="#1a1a1a" stroke-width="1.05"/>
<line x1="873.2" y1="313.3" x2="825.2" y2="408.7" stroke="#1a1a1a" stroke-width="1.05"/>
<line x1="867.6" y1="321.3" x2="810.4" y2="407.8" stroke="#1a1a1a" stroke-width="1.05"/>
<line x1="873.9" y1="311.8" x2="806.5" y2="378.8" stroke="#1a1a1a" stroke-width="1.05"/>
<line x1="871.9" y1="313.5" x2="799.8" y2="376.4" stroke="#1a1a1a" stroke-width="1.05"/>
<line x1="871.4" y1="313.6" x2="796.1" y2="369.9" stroke="#1a1a1a" stroke-width="1.05"/>
<line x1="865.7" y1="317.5" x2="785.9" y2="373.8" stroke="#1a1a1a" stroke-width="1.05"/>
<line x1="870.1" y1="314.3" x2="786.7" y2="369.6" stroke="#1a1a1a" stroke-width="1.05"/>
<line x1="869.5" y1="314.4" x2="788.5" y2="363.5" stroke="#1a1a1a" stroke-width="1.05"/>
<line x1="865.8" y1="315.8" x2="787.7" y2="355.7" stroke="#1a1a1a" stroke-width="1.05"/>
<line x1="872.7" y1="312.3" x2="784.3" y2="356.1" stroke="#1a1a1a" stroke-width="1.05"/>
<line x1="864.2" y1="316.4" x2="773.8" y2="360.0" stroke="#1a1a1a" stroke-width="1.05"/>
<line x1="872.4" y1="312.4" x2="775.2" y2="357.2" stroke="#1a1a1a" stroke-width="1.05"/>
<line x1="866.9" y1="314.3" x2="776.8" y2="348.6" stroke="#1a1a1a" stroke-width="1.05"/>
<line x1="870.5" y1="312.8" x2="769.5" y2="346.2" stroke="#1a1a1a" stroke-width="1.05"/>
<line x1="871.2" y1="312.3" x2="789.1" y2="332.1" stroke="#1a1a1a" stroke-width="1.05"/>
<line x1="866.2" y1="312.6" x2="797.0" y2="321.8" stroke="#1a1a1a" stroke-width="1.05"/>
<line x1="867.6" y1="312.3" x2="793.7" y2="320.2" stroke="#1a1a1a" stroke-width="1.05"/>
<line x1="872.4" y1="317.0" x2="840.0" y2="420.0" stroke="#e0393e" stroke-width="1.05"/>
<line x1="872.2" y1="317.5" x2="836.6" y2="426.2" stroke="#e0393e" stroke-width="1.05"/>
<line x1="871.2" y1="319.0" x2="828.6" y2="426.6" stroke="#e0393e" stroke-width="1.05"/>
<line x1="873.1" y1="313.8" x2="827.4" y2="414.4" stroke="#e0393e" stroke-width="1.05"/>
<line x1="872.6" y1="314.2" x2="817.0" y2="409.3" stroke="#8dc96a" stroke-width="1.05"/>
<line x1="868.6" y1="319.3" x2="804.1" y2="409.3" stroke="#e0393e" stroke-width="1.05"/>
<line x1="868.2" y1="319.2" x2="809.1" y2="395.5" stroke="#e0393e" stroke-width="1.05"/>
<line x1="869.0" y1="317.7" x2="817.0" y2="379.9" stroke="#8dc96a" stroke-width="1.05"/>
<line x1="865.9" y1="321.4" x2="817.0" y2="379.5" stroke="#e0393e" stroke-width="1.05"/>
<line x1="868.2" y1="318.6" x2="811.8" y2="385.1" stroke="#8dc96a" stroke-width="1.05"/>
<line x1="864.2" y1="319.7" x2="805.1" y2="368.1" stroke="#e0393e" stroke-width="1.05"/>
<line x1="871.4" y1="313.8" x2="804.9" y2="366.0" stroke="#e0393e" stroke-width="1.05"/>
<line x1="864.4" y1="317.0" x2="790.7" y2="358.0" stroke="#e0393e" stroke-width="1.05"/>
<line x1="862.9" y1="316.4" x2="782.5" y2="350.5" stroke="#e0393e" stroke-width="1.05"/>
<line x1="861.1" y1="315.5" x2="778.4" y2="340.8" stroke="#e0393e" stroke-width="1.05"/>
<line x1="869.5" y1="312.9" x2="784.2" y2="336.7" stroke="#e0393e" stroke-width="1.05"/>
<line x1="869.5" y1="312.5" x2="785.1" y2="329.8" stroke="#e0393e" stroke-width="1.05"/>
<line x1="860.5" y1="313.9" x2="795.6" y2="324.9" stroke="#8dc96a" stroke-width="1.05"/>
<line x1="870.9" y1="312.1" x2="792.8" y2="323.7" stroke="#e0393e" stroke-width="1.05"/>
<line x1="859.2" y1="312.7" x2="790.5" y2="317.9" stroke="#e0393e" stroke-width="1.05"/>
<line x1="860.8" y1="312.4" x2="782.5" y2="316.8" stroke="#e0393e" stroke-width="1.05"/>
<text x="946.0" y="105.4" font-size="19" text-anchor="start" fill="#2a2829" font-weight="normal" >AE</text>
<text x="815.0" y="138.6" font-size="19" text-anchor="start" fill="#2a2829" font-weight="normal" >A</text>
<text x="733.5" y="187.8" font-size="19" text-anchor="start" fill="#2a2829" font-weight="normal" >AG</text>
<text x="732.3" y="258.6" font-size="19" text-anchor="start" fill="#2a2829" font-weight="normal" >G</text>
<text x="1060.5" y="258.6" font-size="19" text-anchor="start" fill="#2a2829" font-weight="normal" >B</text>
<text x="1015.8" y="376.1" font-size="19" text-anchor="start" fill="#2a2829" font-weight="normal" >D</text>
<text x="949.8" y="424.0" font-size="19" text-anchor="start" fill="#2a2829" font-weight="normal" >BC</text>
<text x="779.8" y="412.2" font-size="19" text-anchor="start" fill="#2a2829" font-weight="normal" >C</text>
<text x="0.5" y="552.2" font-size="25" text-anchor="start" fill="#111" font-weight="bold" >b</text>
<line x1="3.0" y1="560.0" x2="1200.0" y2="560.0" stroke="#3a3a3a" stroke-width="1.8" />
<line x1="3.0" y1="647.6" x2="1200.0" y2="647.6" stroke="#3a3a3a" stroke-width="1.8" />
<line x1="3.0" y1="979.3" x2="1200.0" y2="979.3" stroke="#3a3a3a" stroke-width="1.8" />
<line x1="213.0" y1="612.2" x2="409.6" y2="612.2" stroke="#3a3a3a" stroke-width="1.3" />
<line x1="959.5" y1="591.8" x2="1200.0" y2="591.8" stroke="#3a3a3a" stroke-width="1.3" />
<text x="4.3" y="611.8" font-size="17.5" text-anchor="start" fill="#2a2829" font-weight="normal" >Week</text>
<text x="99.8" y="611.9" font-size="17.5" text-anchor="start" fill="#2a2829" font-weight="normal" >Antibody</text>
<text x="311.0" y="601.0" font-size="18" text-anchor="middle" fill="#2a2829" font-weight="normal" >Somatic mutations (nt)</text>
<text x="258.5" y="633.6" font-size="17.5" text-anchor="middle" fill="#2a2829" font-weight="normal" >Vλ1-51*02</text>
<text x="360.5" y="633.6" font-size="17.5" text-anchor="middle" fill="#2a2829" font-weight="normal" >VH3-30*18</text>
<text x="631.0" y="612.0" font-size="17.5" text-anchor="middle" fill="#2a2829" font-weight="normal" >CDR H3 sequence</text>
<text x="887.0" y="601.6" font-size="17.5" text-anchor="middle" fill="#2a2829" font-weight="normal" >CDR H3</text>
<text x="886.7" y="623.2" font-size="17.5" text-anchor="middle" fill="#2a2829" font-weight="normal" >length (aa)</text>
<text x="1073.0" y="584.0" font-size="17.5" text-anchor="middle" fill="#2a2829" font-weight="normal" >Neutralization (47 strains)</text>
<text x="995.0" y="623.2" font-size="17.5" text-anchor="middle" fill="#2a2829" font-weight="normal" >Breadth</text>
<text x="1138.4" y="612.4" font-size="17.5" text-anchor="middle" fill="#2a2829" font-weight="normal" >Potency</text>
<text x="1135.3" y="635.5" font-size="17.5" text-anchor="middle" fill="#2a2829">(IC<tspan font-size="12.5" dy="4">50</tspan><tspan dy="-4">, µg ml</tspan><tspan font-size="11.5" dy="-7">−1</tspan><tspan dy="7">)</tspan></text>
<text x="63.0" y="668.6" font-size="17.5" text-anchor="start" fill="#3a9a48" font-weight="normal" letter-spacing="-0.62">CAP256-VRC26.01</text>
<text x="263.0" y="668.6" font-size="17.5" text-anchor="middle" fill="#2a2829" font-weight="normal" >3.9%</text>
<text x="360.0" y="668.6" font-size="17.5" text-anchor="middle" fill="#2a2829" font-weight="normal" >8.3%</text>
<text transform="translate(410.6,667.1) scale(1.128,1)" font-family="Liberation Mono, monospace" font-size="14.9" fill="#5c5c5c"><tspan fill="#bdbdbd">CAK</tspan>DVGDYKSDEWGT-EYYDISISYPIQDPRAM--VGAFDL<tspan fill="#bdbdbd">W</tspan></text>
<text x="886.5" y="668.6" font-size="17.5" text-anchor="middle" fill="#2a2829" font-weight="normal" >35</text>
<text x="995.0" y="668.6" font-size="17.5" text-anchor="middle" fill="#2a2829" font-weight="normal" >19%</text>
<text x="1137.6" y="668.6" font-size="17.5" text-anchor="middle" fill="#2a2829" font-weight="normal" >1.88</text>
<text x="63.0" y="696.2" font-size="17.5" text-anchor="start" fill="#3cb4e5" font-weight="normal" letter-spacing="-0.62">CAP256-VRC26.02</text>
<text x="263.0" y="696.2" font-size="17.5" text-anchor="middle" fill="#2a2829" font-weight="normal" >4.9%</text>
<text x="360.0" y="696.2" font-size="17.5" text-anchor="middle" fill="#2a2829" font-weight="normal" >8.7%</text>
<text transform="translate(410.6,694.8) scale(1.128,1)" font-family="Liberation Mono, monospace" font-size="14.9" fill="#5c5c5c"><tspan fill="#bdbdbd">CAK</tspan>DIREYECEYWTS-DYYDFGRPQPCIDSRGV--VGTFDV<tspan fill="#bdbdbd">W</tspan></text>
<text x="886.5" y="696.2" font-size="17.5" text-anchor="middle" fill="#2a2829" font-weight="normal" >35</text>
<text x="995.0" y="696.2" font-size="17.5" text-anchor="middle" fill="#2a2829" font-weight="normal" >17%</text>
<text x="1137.6" y="696.2" font-size="17.5" text-anchor="middle" fill="#2a2829" font-weight="normal" >0.40</text>
<text x="63.0" y="723.9" font-size="17.5" text-anchor="start" fill="#3cb4e5" font-weight="normal" letter-spacing="-0.62">CAP256-VRC26.03</text>
<text x="263.0" y="723.9" font-size="17.5" text-anchor="middle" fill="#2a2829" font-weight="normal" >7.4%</text>
<text x="360.0" y="723.9" font-size="17.5" text-anchor="middle" fill="#2a2829" font-weight="normal" >8.7%</text>
<text transform="translate(410.6,722.4) scale(1.128,1)" font-family="Liberation Mono, monospace" font-size="14.9" fill="#5c5c5c"><tspan fill="#bdbdbd">CAK</tspan>DLREDECEEWWS-DYYDFGKQLPCRKSRGV--AGIFDG<tspan fill="#bdbdbd">W</tspan></text>
<text x="886.5" y="723.9" font-size="17.5" text-anchor="middle" fill="#2a2829" font-weight="normal" >35</text>
<text x="995.0" y="723.9" font-size="17.5" text-anchor="middle" fill="#2a2829" font-weight="normal" >36%</text>
<text x="1137.6" y="723.9" font-size="17.5" text-anchor="middle" fill="#2a2829" font-weight="normal" >0.08</text>
<text x="63.0" y="751.5" font-size="17.5" text-anchor="start" fill="#3cb4e5" font-weight="normal" letter-spacing="-0.62">CAP256-VRC26.04</text>
<text x="263.0" y="751.5" font-size="17.5" text-anchor="middle" fill="#2a2829" font-weight="normal" >8.1%</text>
<text x="360.0" y="751.5" font-size="17.5" text-anchor="middle" fill="#2a2829" font-weight="normal" >9.0%</text>
<text transform="translate(410.6,750.0) scale(1.128,1)" font-family="Liberation Mono, monospace" font-size="14.9" fill="#5c5c5c"><tspan fill="#bdbdbd">CAK</tspan>DLREDECEEWWS-DYYDFGKQLPCRKSRGV--AGIFDK<tspan fill="#bdbdbd">W</tspan></text>
<text x="886.5" y="751.5" font-size="17.5" text-anchor="middle" fill="#2a2829" font-weight="normal" >35</text>
<text x="995.0" y="751.5" font-size="17.5" text-anchor="middle" fill="#2a2829" font-weight="normal" >30%</text>
<text x="1137.6" y="751.5" font-size="17.5" text-anchor="middle" fill="#2a2829" font-weight="normal" >0.32</text>
<text x="63.0" y="779.2" font-size="17.5" text-anchor="start" fill="#3cb4e5" font-weight="normal" letter-spacing="-0.62">CAP256-VRC26.05</text>
<text x="263.0" y="779.2" font-size="17.5" text-anchor="middle" fill="#2a2829" font-weight="normal" >5.4%</text>
<text x="360.0" y="779.2" font-size="17.5" text-anchor="middle" fill="#2a2829" font-weight="normal" >10.1%</text>
<text transform="translate(410.6,777.7) scale(1.128,1)" font-family="Liberation Mono, monospace" font-size="14.9" fill="#5c5c5c"><tspan fill="#bdbdbd">CAR</tspan>DQRYYECEEWAS-DYYDFGREQPCLDPRGV--VGIFDL<tspan fill="#bdbdbd">W</tspan></text>
<text x="886.5" y="779.2" font-size="17.5" text-anchor="middle" fill="#2a2829" font-weight="normal" >35</text>
<text x="995.0" y="779.2" font-size="17.5" text-anchor="middle" fill="#2a2829" font-weight="normal" >21%</text>
<text x="1137.6" y="779.2" font-size="17.5" text-anchor="middle" fill="#2a2829" font-weight="normal" >0.10</text>
<text x="63.0" y="806.9" font-size="17.5" text-anchor="start" fill="#3cb4e5" font-weight="normal" letter-spacing="-0.62">CAP256-VRC26.06</text>
<text x="263.0" y="806.9" font-size="17.5" text-anchor="middle" fill="#2a2829" font-weight="normal" >7.4%</text>
<text x="360.0" y="806.9" font-size="17.5" text-anchor="middle" fill="#2a2829" font-weight="normal" >10.8%</text>
<text transform="translate(410.6,805.4) scale(1.128,1)" font-family="Liberation Mono, monospace" font-size="14.9" fill="#5c5c5c"><tspan fill="#bdbdbd">CAR</tspan>DLRELECEEWTLYNYYDFGSRGPCVDPRGV--AGSFDV<tspan fill="#bdbdbd">W</tspan></text>
<text x="886.5" y="806.9" font-size="17.5" text-anchor="middle" fill="#2a2829" font-weight="normal" >36</text>
<text x="995.0" y="806.9" font-size="17.5" text-anchor="middle" fill="#2a2829" font-weight="normal" >17%</text>
<text x="1137.6" y="806.9" font-size="17.5" text-anchor="middle" fill="#2a2829" font-weight="normal" >0.38</text>
<text x="63.0" y="834.5" font-size="17.5" text-anchor="start" fill="#3cb4e5" font-weight="normal" letter-spacing="-0.62">CAP256-VRC26.07</text>
<text x="263.0" y="834.5" font-size="17.5" text-anchor="middle" fill="#2a2829" font-weight="normal" >7.7%</text>
<text x="360.0" y="834.5" font-size="17.5" text-anchor="middle" fill="#2a2829" font-weight="normal" >11.8%</text>
<text transform="translate(410.6,833.0) scale(1.128,1)" font-family="Liberation Mono, monospace" font-size="14.9" fill="#5c5c5c"><tspan fill="#bdbdbd">CAK</tspan>DLREDECEEWWS-DYYDFGKKLPCRKSRGV--AGVFDK<tspan fill="#bdbdbd">W</tspan></text>
<text x="886.5" y="834.5" font-size="17.5" text-anchor="middle" fill="#2a2829" font-weight="normal" >35</text>
<text x="995.0" y="834.5" font-size="17.5" text-anchor="middle" fill="#2a2829" font-weight="normal" >13%</text>
<text x="1137.6" y="834.5" font-size="17.5" text-anchor="middle" fill="#2a2829" font-weight="normal" >1.51</text>
<text x="63.0" y="862.1" font-size="17.5" text-anchor="start" fill="#3cb4e5" font-weight="normal" letter-spacing="-0.62">CAP256-VRC26.08</text>
<text x="263.0" y="862.1" font-size="17.5" text-anchor="middle" fill="#2a2829" font-weight="normal" >9.8%</text>
<text x="360.0" y="862.1" font-size="17.5" text-anchor="middle" fill="#2a2829" font-weight="normal" >11.8%</text>
<text transform="translate(410.6,860.6) scale(1.128,1)" font-family="Liberation Mono, monospace" font-size="14.9" fill="#5c5c5c"><tspan fill="#bdbdbd">CVR</tspan>DQREDECEEWWS-DYYDFGRELPCRKFRGLGLAGIFDI<tspan fill="#bdbdbd">W</tspan></text>
<text x="886.5" y="862.1" font-size="17.5" text-anchor="middle" fill="#2a2829" font-weight="normal" >37</text>
<text x="995.0" y="862.1" font-size="17.5" text-anchor="middle" fill="#2a2829" font-weight="normal" >47%</text>
<text x="1137.6" y="862.1" font-size="17.5" text-anchor="middle" fill="#2a2829" font-weight="normal" >0.11</text>
<text x="63.0" y="889.8" font-size="17.5" text-anchor="start" fill="#3cb4e5" font-weight="normal" letter-spacing="-0.62">CAP256-VRC26.09</text>
<text x="263.0" y="889.8" font-size="17.5" text-anchor="middle" fill="#2a2829" font-weight="normal" >9.8%</text>
<text x="360.0" y="889.8" font-size="17.5" text-anchor="middle" fill="#2a2829" font-weight="normal" >14.2%</text>
<text transform="translate(410.6,888.3) scale(1.128,1)" font-family="Liberation Mono, monospace" font-size="14.9" fill="#5c5c5c"><tspan fill="#bdbdbd">CVK</tspan>DQREDECEEWWS-DYYDFGRELPCRKSRGLGLAGIFDM<tspan fill="#bdbdbd">W</tspan></text>
<text x="886.5" y="889.8" font-size="17.5" text-anchor="middle" fill="#2a2829" font-weight="normal" >37</text>
<text x="995.0" y="889.8" font-size="17.5" text-anchor="middle" fill="#2a2829" font-weight="normal" >47%</text>
<text x="1137.6" y="889.8" font-size="17.5" text-anchor="middle" fill="#2a2829" font-weight="normal" >0.07</text>
<text x="63.0" y="917.5" font-size="17.5" text-anchor="start" fill="#922a8f" font-weight="normal" letter-spacing="-0.62">CAP256-VRC26.10</text>
<text x="263.0" y="917.5" font-size="17.5" text-anchor="middle" fill="#2a2829" font-weight="normal" >3.9%</text>
<text x="360.0" y="917.5" font-size="17.5" text-anchor="middle" fill="#2a2829" font-weight="normal" >11.8%</text>
<text transform="translate(410.6,916.0) scale(1.128,1)" font-family="Liberation Mono, monospace" font-size="14.9" fill="#5c5c5c"><tspan fill="#bdbdbd">CAK</tspan>DMREYECEYWTS-DYYDFGRPQPCIDRRGV--VGIFDM<tspan fill="#bdbdbd">W</tspan></text>
<text x="886.5" y="917.5" font-size="17.5" text-anchor="middle" fill="#2a2829" font-weight="normal" >35</text>
<text x="995.0" y="917.5" font-size="17.5" text-anchor="middle" fill="#2a2829" font-weight="normal" >23%</text>
<text x="1137.6" y="917.5" font-size="17.5" text-anchor="middle" fill="#2a2829" font-weight="normal" >0.60</text>
<text x="63.0" y="945.1" font-size="17.5" text-anchor="start" fill="#922a8f" font-weight="normal" letter-spacing="-0.62">CAP256-VRC26.11</text>
<text x="263.0" y="945.1" font-size="17.5" text-anchor="middle" fill="#2a2829" font-weight="normal" >13.7%</text>
<text x="360.0" y="945.1" font-size="17.5" text-anchor="middle" fill="#2a2829" font-weight="normal" >11.9%</text>
<text transform="translate(410.6,943.6) scale(1.128,1)" font-family="Liberation Mono, monospace" font-size="14.9" fill="#5c5c5c"><tspan fill="#bdbdbd">CVK</tspan>DMRELECEEWAS-DYYDFGKPQPCLDRRGV--SGISAW<tspan fill="#bdbdbd">W</tspan></text>
<text x="886.5" y="945.1" font-size="17.5" text-anchor="middle" fill="#2a2829" font-weight="normal" >35</text>
<text x="995.0" y="945.1" font-size="17.5" text-anchor="middle" fill="#2a2829" font-weight="normal" >26%</text>
<text x="1137.6" y="945.1" font-size="17.5" text-anchor="middle" fill="#2a2829" font-weight="normal" >0.94</text>
<text x="63.0" y="972.8" font-size="17.5" text-anchor="start" fill="#922a8f" font-weight="normal" letter-spacing="-0.62">CAP256-VRC26.12</text>
<text x="263.0" y="972.8" font-size="17.5" text-anchor="middle" fill="#2a2829" font-weight="normal" >8.4%</text>
<text x="360.0" y="972.8" font-size="17.5" text-anchor="middle" fill="#2a2829" font-weight="normal" >15.3%</text>
<text transform="translate(410.6,971.2) scale(1.128,1)" font-family="Liberation Mono, monospace" font-size="14.9" fill="#5c5c5c"><tspan fill="#bdbdbd">CAR</tspan>DLRESECEEWES-DYYDFGKKGPCVKPRGV--AGGLDL<tspan fill="#bdbdbd">W</tspan></text>
<text x="886.5" y="972.8" font-size="17.5" text-anchor="middle" fill="#2a2829" font-weight="normal" >35</text>
<text x="995.0" y="972.8" font-size="17.5" text-anchor="middle" fill="#2a2829" font-weight="normal" >6%</text>
<text x="1137.6" y="972.8" font-size="17.5" text-anchor="middle" fill="#2a2829" font-weight="normal" >0.49</text>
<text x="42.8" y="668.6" font-size="17.5" text-anchor="end" fill="#3a9a48" font-weight="normal" >59</text>
<text x="43.5" y="792.8" font-size="17.5" text-anchor="end" fill="#3cb4e5" font-weight="normal" >119</text>
<text x="43.5" y="944.1" font-size="17.5" text-anchor="end" fill="#922a8f" font-weight="normal" >206</text>
<rect x="55.1" y="651.5" width="2.8" height="22.5" fill="#3a9a48"/>
<rect x="55.1" y="680" width="2.8" height="213.2" fill="#3cb4e5"/>
<rect x="55.1" y="905" width="2.8" height="72.6" fill="#922a8f"/>
</svg>
</body></html>
